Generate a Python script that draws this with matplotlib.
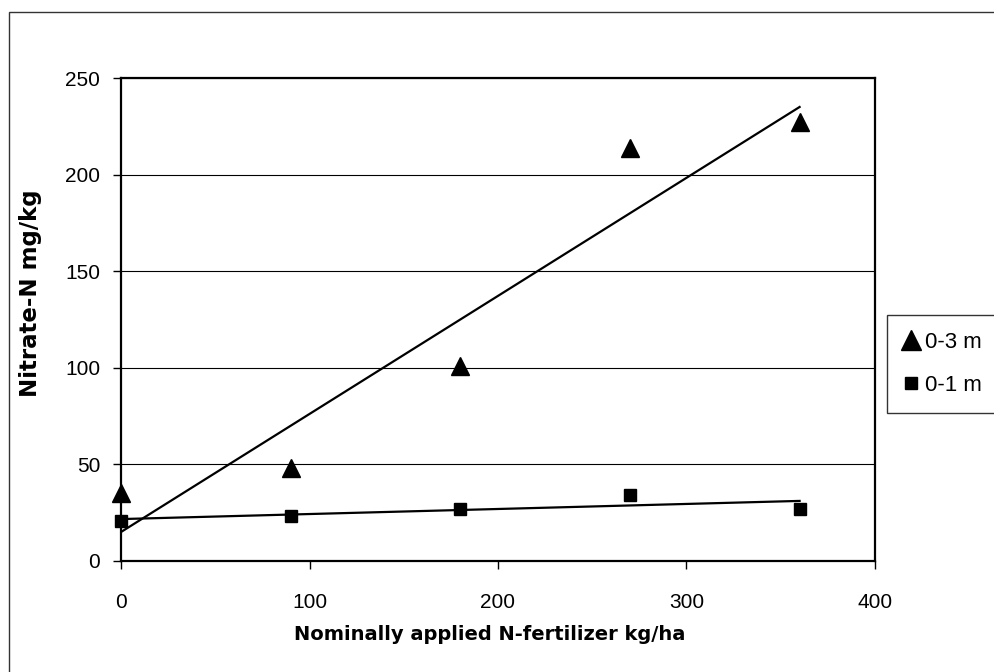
import numpy as np
import matplotlib
matplotlib.use("Agg")
import matplotlib.pyplot as plt
from matplotlib.patches import Rectangle
from matplotlib.lines import Line2D

plt.rcParams['font.family'] = ['Liberation Sans', 'DejaVu Sans']

x_vals = [0, 90, 180, 270, 360]
y_03m = [35, 48, 101, 214, 227]
y_01m = [20.5, 23.5, 27, 34, 27]
labels = ["0-3 m", "0-1 m"]
x_ticks = [0, 100, 200, 300, 400]
y_ticks = [0, 50, 100, 150, 200, 250]

fig = plt.figure(figsize=(9.94, 6.72), dpi=100)
ax = fig.add_axes([121/994, 1 - 561/672, 754/994, 483/672])

# outer frame of the chart area
fig.patches.append(Rectangle((9/994, -0.05), 1.2, 1 - 12/672 + 0.05,
                             transform=fig.transFigure, fill=False,
                             edgecolor='#333333', linewidth=1.0))

xs = np.array(x_vals, dtype=float)
for ys, mk, ms in [(y_03m, '^', 13), (y_01m, 's', 9)]:
    ax.plot(x_vals, ys, linestyle='none', marker=mk, markersize=ms,
            color='black', zorder=4, clip_on=False)
    p = np.polyfit(xs, np.array(ys, dtype=float), 1)
    ax.plot([xs[0], xs[-1]], np.polyval(p, [xs[0], xs[-1]]),
            color='black', linewidth=1.6, zorder=3)

ax.set_xlim(0, 400)
ax.set_ylim(0, 250)
ax.set_xticks(x_ticks)
ax.set_yticks(y_ticks)
ax.yaxis.grid(True, color='black', linewidth=0.8)
ax.set_axisbelow(True)
for s in ax.spines.values():
    s.set_linewidth(1.6)
    s.set_color('black')
ax.tick_params(axis='x', direction='out', length=6, width=1, pad=17, labelsize=15)
ax.tick_params(axis='y', direction='out', length=6, width=1, pad=9, labelsize=15)

ax.set_xlabel("Nominally applied N-fertilizer kg/ha", fontsize=14,
              fontweight='bold', family=['DejaVu Sans'])
ax.set_ylabel("Nitrate-N mg/kg", fontsize=16.5, fontweight='bold',
              family=['DejaVu Sans'])
ax.xaxis.set_label_coords((490 - 121) / 754, (561 - 625) / 483)
ax.yaxis.set_label_coords((42 - 121) / 754, (561 - 293) / 483)

handles = [Line2D([], [], linestyle='none', marker='^', markersize=14, color='black'),
           Line2D([], [], linestyle='none', marker='s', markersize=8, color='black')]
leg = fig.legend(handles, labels, loc='upper left',
                 bbox_to_anchor=(887/994, 1 - 315/672),
                 frameon=True, fancybox=False, fontsize=16,
                 handlelength=0.7, handletextpad=0.25, borderpad=0.75,
                 labelspacing=1.0, borderaxespad=0)
leg.get_frame().set_edgecolor('black')
leg.get_frame().set_linewidth(1.0)

fig.savefig("out.png", dpi=100)
